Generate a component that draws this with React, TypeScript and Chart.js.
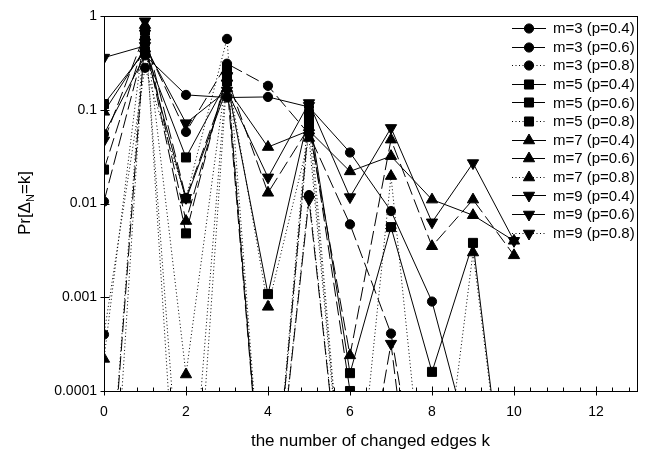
import React, { useEffect, useRef } from "react";
import { Chart, registerables } from "chart.js";
Chart.register(...registerables);

// k values (x axis)
const kValues = [0, 1, 2, 3, 4, 5, 6, 7, 8, 9, 10];

// series values Pr[Δ_N = k]; tiny values lie below the visible axis range
const m3p04 = [0.055, 0.38, 0.144, 0.135, 0.137, 0.107, 0.035, 0.0083, 0.0009, 2e-5, null];
const m3p06 = [0.0105, 0.5, 0.058, 0.31, 0.18, 0.055, 0.006, 0.00041, 1e-6, null, null];
const m3p08 = [0.0004, 0.28, 0.0115, 0.57, 1e-6, 0.0123, 1e-6, null, null, null, null];
const m5p04 = [0.115, 0.42, 0.031, 0.2, 0.00108, 0.09, 0.000155, 0.0056, 0.00016, 0.0038, 1e-6];
const m5p06 = [0.023, 0.55, 0.0048, 0.25, 1e-6, 0.08, 0.0001, 1e-7, null, null, null];
const m5p08 = [1e-7, 0.7, 1e-6, 0.28, 1e-6, 0.07, 1e-6, null, null, null, null];
const m7p04 = [0.095, 0.45, 0.011, 0.17, 0.04, 0.06, 0.022, 0.032, 0.011, 0.0075, 0.004];
const m7p06 = [1e-6, 0.6, 0.0065, 0.22, 0.013, 0.065, 0.00024, 0.048, 0.0035, 0.011, 0.0028];
const m7p08 = [0.00022, 0.8, 0.00015, 0.26, 0.00079, 0.05, 1e-6, 0.0196, 1e-6, 0.003, 1e-6];
const m9p04 = [0.36, 0.48, 0.072, 0.16, 0.019, 0.118, 0.0117, 0.064, 0.0063, 0.027, 0.004];
const m9p06 = [0.047, 0.65, 0.0115, 0.19, 1e-6, 0.011, 1e-6, 0.00032, 1e-7, null, null];
const m9p08 = [1e-6, 0.88, 1e-7, 0.23, 1e-6, 0.11, 1e-6, null, null, null, null];

const seriesLabels = [
  "m=3 (p=0.4)", "m=3 (p=0.6)", "m=3 (p=0.8)",
  "m=5 (p=0.4)", "m=5 (p=0.6)", "m=5 (p=0.8)",
  "m=7 (p=0.4)", "m=7 (p=0.6)", "m=7 (p=0.8)",
  "m=9 (p=0.4)", "m=9 (p=0.6)", "m=9 (p=0.8)",
];
const seriesValues = [m3p04, m3p06, m3p08, m5p04, m5p06, m5p08, m7p04, m7p06, m7p08, m9p04, m9p06, m9p08];

const xTickValues = [0, 2, 4, 6, 8, 10, 12];
const xTickLabels = ["0", "2", "4", "6", "8", "10", "12"];
const yTickValues = [1, 0.1, 0.01, 0.001, 0.0001];
const yTickLabels = ["1", "0.1", "0.01", "0.001", "0.0001"];
const xTitle = "the number of changed edges k";

type Marker = { style: string; radius: number; rotation: number };
const markers: Marker[] = [
  { style: "circle", radius: 4.6, rotation: 0 },
  { style: "rect", radius: 6.4, rotation: 0 },
  { style: "triangle", radius: 6.5, rotation: 0 },
  { style: "triangle", radius: 6.5, rotation: 180 },
];
const dashes: number[][] = [[], [14, 5], [1, 2.5]];

const FONT = '"Liberation Sans", Arial, sans-serif';

function drawMarker(ctx: CanvasRenderingContext2D, m: Marker, x: number, y: number) {
  ctx.beginPath();
  if (m.style === "circle") {
    ctx.arc(x, y, m.radius, 0, Math.PI * 2);
  } else if (m.style === "rect") {
    const s = Math.SQRT1_2 * m.radius;
    ctx.rect(x - s, y - s, 2 * s, 2 * s);
  } else {
    let rad = (m.rotation * Math.PI) / 180;
    const r = m.radius;
    ctx.moveTo(x + Math.sin(rad) * r, y - Math.cos(rad) * r);
    rad += (2 * Math.PI) / 3;
    ctx.lineTo(x + Math.sin(rad) * r, y - Math.cos(rad) * r);
    rad += (2 * Math.PI) / 3;
    ctx.lineTo(x + Math.sin(rad) * r, y - Math.cos(rad) * r);
    ctx.closePath();
  }
  ctx.fill();
  ctx.stroke();
}

const decorPlugin = {
  id: "decor",
  afterDatasetsDraw(chart: any) {
    const { ctx, chartArea: a, scales } = chart;
    const xs = scales.x;
    const ys = scales.y;
    ctx.save();
    ctx.setLineDash([]);
    ctx.strokeStyle = "#000";
    ctx.fillStyle = "#000";
    ctx.lineWidth = 1;
    // frame
    ctx.strokeRect(Math.round(a.left) + 0.5, Math.round(a.top) + 0.5, Math.round(a.right - a.left), Math.round(a.bottom - a.top));
    // x ticks
    const bottom = Math.round(a.bottom) + 0.5;
    ctx.beginPath();
    for (let i = 0; i <= 32; i++) {
      const v = i * 0.4;
      const px = Math.round(xs.getPixelForValue(v)) + 0.5;
      if (i % 5 === 0) {
        ctx.moveTo(px, bottom - 5);
        ctx.lineTo(px, bottom + 4);
      } else {
        ctx.moveTo(px, bottom - 4);
        ctx.lineTo(px, bottom);
      }
    }
    // y ticks
    const left = Math.round(a.left) + 0.5;
    for (const v of yTickValues) {
      const py = Math.round(ys.getPixelForValue(v)) + 0.5;
      ctx.moveTo(left - 4, py);
      ctx.lineTo(left + 5, py);
    }
    ctx.stroke();
    // tick labels
    ctx.font = "14px " + FONT;
    ctx.textAlign = "center";
    ctx.textBaseline = "middle";
    xTickValues.forEach((v, i) => {
      ctx.fillText(xTickLabels[i], xs.getPixelForValue(v), 412);
    });
    ctx.textAlign = "right";
    yTickValues.forEach((v, i) => {
      ctx.fillText(yTickLabels[i], 97, ys.getPixelForValue(v));
    });
    // x title
    ctx.font = "17px " + FONT;
    ctx.textAlign = "center";
    ctx.fillText(xTitle, (a.left + a.right) / 2, 441);
    // y title with subscript
    ctx.save();
    ctx.translate(30, 203);
    ctx.rotate(-Math.PI / 2);
    ctx.textBaseline = "alphabetic";
    ctx.textAlign = "left";
    const p1 = "Pr[Δ";
    const p2 = "N";
    const p3 = "=k]";
    ctx.font = "17px " + FONT;
    const w1 = ctx.measureText(p1).width;
    const w3 = ctx.measureText(p3).width;
    ctx.font = "11px " + FONT;
    const w2 = ctx.measureText(p2).width;
    const total = w1 + w2 + w3;
    let cx = -total / 2;
    ctx.font = "17px " + FONT;
    ctx.fillText(p1, cx, 0);
    cx += w1;
    ctx.font = "11px " + FONT;
    ctx.fillText(p2, cx, 4);
    cx += w2;
    ctx.font = "17px " + FONT;
    ctx.fillText(p3, cx, 0);
    ctx.restore();
    // legend
    ctx.font = "15px " + FONT;
    ctx.textAlign = "left";
    ctx.textBaseline = "middle";
    seriesLabels.forEach((label, i) => {
      const y = 28 + i * 18.6;
      const mk = markers[Math.floor(i / 3)];
      ctx.setLineDash(dashes[i % 3]);
      ctx.beginPath();
      ctx.moveTo(512, Math.round(y) + 0.5);
      ctx.lineTo(546, Math.round(y) + 0.5);
      ctx.stroke();
      ctx.setLineDash([]);
      drawMarker(ctx, mk, 529, Math.round(y) + 0.5);
      ctx.fillText(label, 553, y + 1);
    });
    ctx.restore();
  },
};

export default function App() {
  const ref = useRef<HTMLCanvasElement>(null);
  useEffect(() => {
    const canvas = ref.current;
    if (!canvas) return;
    const datasets = seriesValues.map((vals, i) => {
      const mk = markers[Math.floor(i / 3)];
      return {
        label: seriesLabels[i],
        data: kValues.map((k, j) => ({ x: k, y: vals[j] })),
        borderColor: "#000",
        backgroundColor: "#000",
        borderWidth: 1,
        borderDash: dashes[i % 3],
        pointStyle: mk.style,
        pointRadius: mk.radius,
        pointRotation: mk.rotation,
        pointBorderWidth: 1,
        pointBackgroundColor: "#000",
        pointBorderColor: "#000",
        tension: 0,
        spanGaps: false,
      };
    });
    const chart = new Chart(canvas, {
      type: "line",
      data: { datasets: datasets as any },
      options: {
        responsive: false,
        animation: false,
        devicePixelRatio: 1,
        layout: { padding: { left: 104, right: 11, top: 16, bottom: 62 } },
        plugins: { legend: { display: false }, tooltip: { enabled: false } },
        scales: {
          x: { type: "linear", min: 0, max: 13, display: false },
          y: { type: "logarithmic", min: 0.0001, max: 1, display: false },
        },
      },
      plugins: [decorPlugin as any],
    });
    return () => chart.destroy();
  }, []);
  return (
    <div style={{ position: "fixed", left: 0, top: 0, width: 648, height: 453, background: "#fff" }}>
      <canvas ref={ref} width={648} height={453} style={{ width: 648, height: 453, display: "block" }} />
    </div>
  );
}
